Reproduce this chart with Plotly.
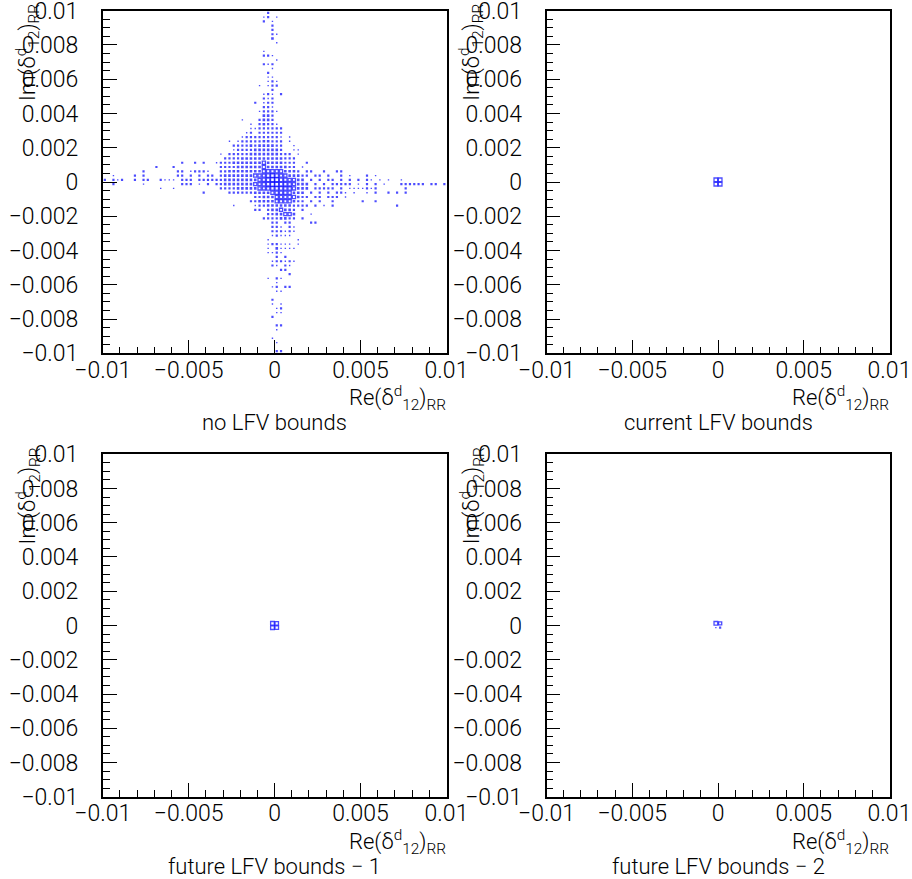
import math
import plotly.graph_objects as go

# ---------------- data ----------------
# 2D histogram: 80 x 80 bins on [-0.01, 0.01] in both Re and Im.
LO, HI, NBINS = -0.01, 0.01, 80

# bin contents, rows counted from the top (Im = +0.01) downwards,
# each entry "column:count" with columns counted from Re = -0.01
P1_ROWS = {
    0: "38:2",
    1: "37:1 38:2 40:1",
    2: "37:2 39:1",
    3: "39:2",
    4: "39:2",
    5: "39:2 40:1",
    6: "39:3",
    7: "40:1",
    9: "37:1",
    10: "37:2 38:2 39:1",
    11: "40:1",
    12: "37:2 38:1 39:2",
    13: "39:1",
    14: "38:2",
    15: "38:1 39:1",
    16: "38:1 39:2 40:1",
    17: "36:1 38:1 39:2 40:2",
    18: "39:2",
    19: "37:1 38:2 39:1 41:2",
    20: "37:2 38:1 39:2",
    21: "35:2 37:1 38:2 39:2",
    22: "37:2 38:2 39:1",
    23: "36:1 37:2 38:2 39:2 40:1",
    24: "37:3 38:3 39:2",
    25: "32:1 36:2 37:3 38:3 39:2",
    26: "34:1 36:2 37:3 38:2 39:2 40:1",
    27: "34:1 35:1 36:2 37:2 38:2 39:2 40:2 41:2",
    28: "33:1 34:2 36:2 37:2 38:2 39:2 40:2 41:2",
    29: "32:1 33:2 34:2 35:2 36:2 37:2 38:2 39:2 40:2 41:1 43:1",
    30: "29:1 31:1 32:2 33:2 34:2 35:2 36:2 37:3 38:3 39:2 40:2 41:2 43:1",
    31: "30:2 31:2 32:2 33:2 34:3 35:2 36:3 37:3 38:3 39:3 40:2 41:2 44:1",
    32: "30:1 31:2 32:2 33:2 34:2 35:3 36:3 37:3 38:3 39:3 40:3 41:2 44:1 45:1",
    33: "27:1 29:2 30:2 31:2 32:2 33:2 34:3 35:3 36:3 37:3 38:3 39:3 40:3 41:2 42:2 43:2 45:1",
    34: "28:2 29:2 30:2 31:2 32:3 33:3 34:3 35:3 36:3 37:3 38:3 39:3 40:3 41:3 42:2 43:2 44:2",
    35: "18:2 21:2 23:2 26:1 27:2 28:2 29:2 30:3 31:3 32:3 33:3 34:3 35:3 36:3 37:4 38:3 39:3 "
        "40:3 41:3 42:2 43:2 44:2 47:2",
    36: "12:2 16:2 27:2 28:2 29:2 30:2 31:3 32:3 33:3 34:3 35:3 36:3 37:5 38:3 39:3 40:3 41:3 "
        "42:3 43:2 44:2 46:1",
    37: "9:2 17:2 18:2 20:1 21:2 22:2 23:2 24:1 27:2 28:2 29:3 30:3 31:3 32:3 33:3 34:3 35:3 "
        "36:3 37:4 38:5 39:5 40:4 41:4 42:3 43:3 44:3 45:2 47:2 48:2 51:2 54:2 55:2",
    38: "2:1 7:2 9:2 17:2 18:2 20:2 22:2 24:2 25:2 27:2 28:3 29:3 30:3 31:3 32:3 33:3 34:3 "
        "35:4 36:4 37:4 38:6 39:8 40:6 41:4 42:4 43:3 44:3 45:3 46:2 47:2 49:2 50:2 52:2 "
        "55:2 57:1 61:2 63:1",
    39: "0:2 2:2 3:1 4:2 7:2 9:2 10:2 13:2 14:1 15:1 16:1 18:2 19:2 20:2 22:2 23:2 24:2 25:2 "
        "26:2 27:2 28:3 29:3 30:3 31:3 32:3 33:3 34:3 35:3 36:4 37:5 38:6 39:9 40:9 41:6 "
        "42:5 43:4 44:4 45:3 46:3 48:2 50:2 52:2 53:2 55:2 57:2 59:2 61:2 62:1 64:1 66:1 69:1",
    40: "2:2 9:1 18:2 19:2 20:2 22:1 24:2 26:2 27:2 28:3 29:3 30:3 31:3 32:3 33:3 34:3 35:4 "
        "36:4 37:5 38:6 39:9 40:9 41:7 42:6 43:5 44:4 45:3 46:3 47:3 49:2 51:2 53:2 54:2 "
        "55:2 56:2 57:2 59:1 61:2 63:2 65:1 69:2 70:2 71:2 72:2 73:2 74:2 76:2 77:2 79:2",
    41: "13:1 16:1 27:2 28:2 29:2 30:2 31:3 32:3 33:3 34:3 35:3 36:4 37:4 38:5 39:6 40:6 "
        "41:6 42:5 43:5 44:4 45:3 46:3 47:3 49:2 50:2 51:2 52:2 53:2 55:2 57:1 58:1 59:1 "
        "60:1 61:2 62:1 63:2 70:2",
    42: "23:2 29:2 30:2 31:2 32:2 33:2 34:2 35:3 36:3 37:3 38:3 39:4 40:5 41:5 42:5 43:4 "
        "44:3 45:3 46:3 48:2 50:2 52:2 54:2 55:2 56:1 58:1 61:1 63:2 66:2 68:2 70:2",
    43: "35:2 36:2 37:3 38:3 39:3 40:4 41:4 42:4 43:5 44:4 45:3 46:2 47:2 49:2 50:2 52:2 "
        "53:2 54:2 56:1",
    44: "34:2 35:2 36:3 37:3 38:3 39:3 40:4 41:4 42:4 43:4 44:3 45:2 46:2 48:2 50:2 53:2 "
        "60:2 63:2",
    45: "30:1 35:1 36:2 37:2 38:3 39:3 40:3 41:3 42:3 43:3 44:2 45:2 46:2 47:2 49:2 51:1 "
        "53:2 68:2",
    46: "35:2 36:2 38:2 39:3 40:3 41:4 42:3 43:3 44:2 46:2",
    47: "38:2 39:2 40:3 41:3 42:4 43:4 44:3 48:1",
    48: "37:2 38:2 39:2 40:2 41:3 42:3 43:2 44:2 46:2",
    49: "39:2 40:2 42:2 43:2 48:2 49:2",
    50: "39:2 40:2 41:1 43:2 44:1",
    51: "39:2 40:2 41:2 42:1 43:2 44:1",
    52: "39:1 40:2 41:1 42:1 43:1",
    53: "38:1 45:1",
    54: "38:1 39:2 40:2 41:1 42:1 43:1 45:1",
    55: "38:1 40:3 41:1 42:1 43:1 44:1",
    56: "38:1 39:1 40:2 41:1",
    57: "40:2 42:2",
    58: "39:1 40:2 41:2 42:1 43:2 44:1",
    59: "39:2 40:1 42:2 43:1",
    60: "41:2 42:2",
    61: "43:2",
    62: "38:1 40:2 41:1",
    63: "40:1",
    64: "39:1 40:2 42:2 43:2",
    65: "40:1 41:1",
    67: "39:2",
    68: "39:1 41:1",
    69: "40:1 41:2",
    70: "40:1 41:1",
    71: "39:2",
    73: "40:2 41:2",
    74: "40:1",
    76: "39:1",
    77: "40:1",
    79: "40:2 41:2",
}
P2_ROWS = {39: "39:8 40:8", 40: "39:8 40:8"}
P3_ROWS = {39: "39:8 40:6", 40: "39:8 40:7"}
P4_ROWS = {39: "39:8 40:4", 40: "39:1 40:2"}

PANEL_ROWS = [P1_ROWS, P2_ROWS, P3_ROWS, P4_ROWS]
PANEL_TITLES = ["no LFV bounds", "current LFV bounds",
                "future LFV bounds \u2212 1", "future LFV bounds \u2212 2"]
X_TITLE = "Re(\u03b4<sup>d</sup><sub>12</sub>)<sub>RR</sub>"
Y_TITLE = "Im(\u03b4<sup>d</sup><sub>12</sub>)<sub>RR</sub>"
X_TICKVALS = [-0.01, -0.005, 0, 0.005, 0.01]
X_TICKTEXT = ["\u22120.01", "\u22120.005", "0", "0.005", "0.01"]
Y_TICKVALS = [0.01, 0.008, 0.006, 0.004, 0.002, 0, -0.002, -0.004, -0.006, -0.008, -0.01]
Y_TICKTEXT = ["0.01", "0.008", "0.006", "0.004", "0.002", "0", "\u22120.002",
              "\u22120.004", "\u22120.006", "\u22120.008", "\u22120.01"]

# ---------------- figure ----------------
W, H = 912, 879
BLUE = "#0000ff"
FONT = "Roboto, Liberation Sans, Arial, sans-serif"
FW = 300

# panel frames in pixels: (left, right, top, bottom)
PANELS = [(102.7, 446.5, 10.7, 353.3), (546.5, 889.5, 10.7, 353.3),
          (102.7, 446.5, 454.2, 796.8), (546.5, 889.5, 454.2, 796.8)]

w = (HI - LO) / NBINS
fig = go.Figure()


def parse(rows):
    xs, ys, cs = [], [], []
    for j, s in rows.items():
        for tok in s.split():
            i, c = tok.split(":")
            xs.append(LO + (int(i) + 0.5) * w)
            ys.append(HI - (j + 0.5) * w)
            cs.append(int(c))
    return xs, ys, cs


def filled_size(c):
    return {1: 1.4, 2: 2.2, 3: 2.6}[c]


def open_size(c):
    return 1.8 + 2.0 * math.sqrt(c / 9.0)


for k, rows in enumerate(PANEL_ROWS):
    xs, ys, cs = parse(rows)
    ax = "" if k == 0 else str(k + 1)
    fx = [x for x, c in zip(xs, cs) if c <= 3]
    fy = [y for y, c in zip(ys, cs) if c <= 3]
    fs = [filled_size(c) for c in cs if c <= 3]
    ox = [x for x, c in zip(xs, cs) if c > 3]
    oy = [y for y, c in zip(ys, cs) if c > 3]
    osz = [open_size(c) for c in cs if c > 3]
    if fx:
        fig.add_trace(go.Scatter(x=fx, y=fy, mode="markers", xaxis="x" + ax, yaxis="y" + ax,
                                 marker=dict(symbol="square", size=fs, color=BLUE,
                                             line=dict(width=0)),
                                 showlegend=False, hoverinfo="skip"))
    if ox:
        fig.add_trace(go.Scatter(x=ox, y=oy, mode="markers", xaxis="x" + ax, yaxis="y" + ax,
                                 marker=dict(symbol="square-open", size=osz, color=BLUE,
                                             line=dict(width=1.3, color=BLUE)),
                                 showlegend=False, hoverinfo="skip"))

layout = dict(width=W, height=H, autosize=False,
              margin=dict(l=0, r=0, t=0, b=0, autoexpand=False),
              paper_bgcolor="white", plot_bgcolor="white",
              font=dict(family=FONT, size=22, color="black", weight=FW),
              showlegend=False)


def px(x):
    return x / W


def py(y):
    return 1 - y / H


annotations = []
for k, (l, r, t, b) in enumerate(PANELS):
    ax = "" if k == 0 else str(k + 1)
    common = dict(showgrid=False, zeroline=False, showline=True, mirror=True,
                  linecolor="black", linewidth=1.6, ticks="inside", ticklen=14,
                  tickwidth=1, tickcolor="black", range=[LO, HI], automargin=False,
                  ticklabeloverflow="allow",
                  tickfont=dict(family=FONT, size=23, color="black", weight=FW))
    layout["xaxis" + ax] = dict(common, domain=[px(l), px(r)], anchor="y" + ax,
                               tickvals=X_TICKVALS, ticktext=X_TICKTEXT,
                               ticklabelstandoff=-5,
                               minor=dict(dtick=0.001, tick0=0, ticks="inside", ticklen=7,
                                          tickwidth=1, tickcolor="black"))
    layout["yaxis" + ax] = dict(common, domain=[py(b), py(t)], anchor="x" + ax,
                               tickvals=Y_TICKVALS, ticktext=Y_TICKTEXT,
                               ticklabelstandoff=18,
                               minor=dict(dtick=0.0005, tick0=0, ticks="inside", ticklen=7,
                                          tickwidth=1, tickcolor="black"))
    # x-axis title (right aligned at frame edge)
    annotations.append(dict(text=X_TITLE, xref="paper", yref="paper",
                            x=px(r + 1), y=py(b + 45), xanchor="right", yanchor="middle",
                            showarrow=False, font=dict(family=FONT, size=22, weight=FW)))
    # panel caption
    annotations.append(dict(text=PANEL_TITLES[k], xref="paper", yref="paper",
                            x=px((l + r) / 2), y=py(b + 69.5), xanchor="center",
                            yanchor="middle", showarrow=False,
                            font=dict(family=FONT, size=22, weight=FW)))
    # y-axis title (rotated, top aligned)
    annotations.append(dict(text=Y_TITLE, xref="paper", yref="paper", textangle=-90,
                            x=px(l - 75), y=py(t - 9), xanchor="center", yanchor="top",
                            showarrow=False, font=dict(family=FONT, size=22, weight=FW)))

layout["annotations"] = annotations
fig.update_layout(**layout)
# the page body's default 8 px margin is removed so the figure sits at the window corner
fig.write_html("out.html", config={"displayModeBar": False},
               post_script="document.body.style.margin='0';")
